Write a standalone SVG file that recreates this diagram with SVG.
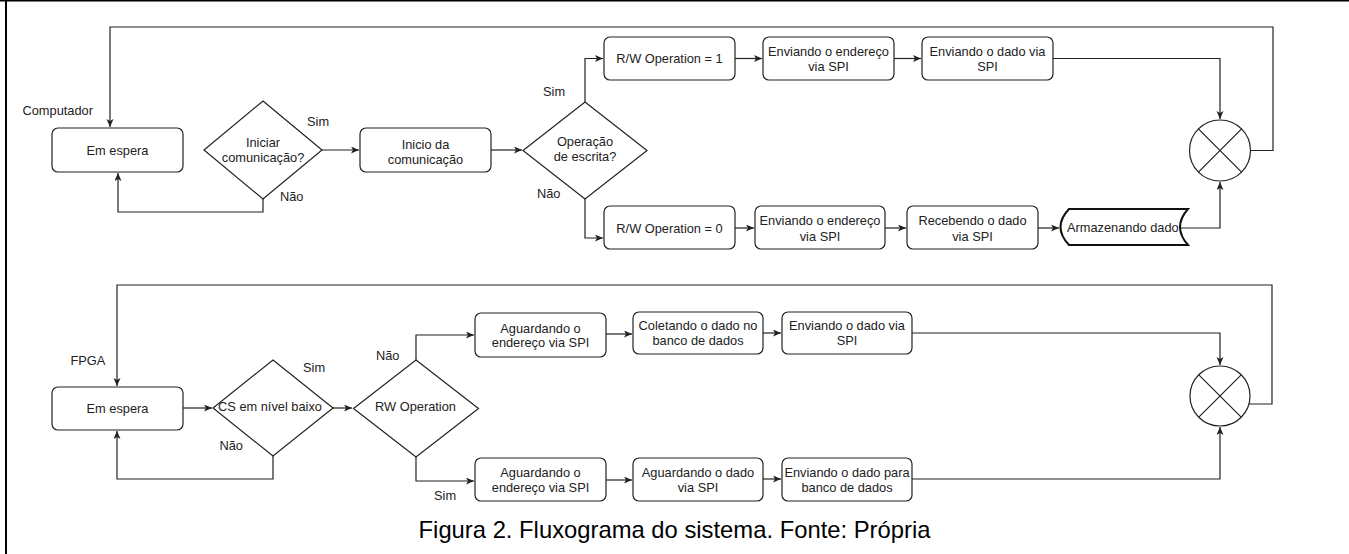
<svg xmlns="http://www.w3.org/2000/svg" width="1349" height="554" viewBox="0 0 1349 554">
<style>
.n{fill:#fff;stroke:#222;stroke-width:1.2}
.c{fill:none;stroke:#222;stroke-width:1.2}
text{font-family:"Liberation Sans",Arial,sans-serif;font-size:12.8px;fill:#222}
.m{text-anchor:middle}
.cap{font-size:23.8px;fill:#000}
</style>
<defs>
<marker id="a" markerWidth="9" markerHeight="8" refX="8" refY="3.5" orient="auto" markerUnits="userSpaceOnUse">
<path d="M0,0 L8,3.5 L0,7 L2,3.5 z" fill="#222"/>
</marker>
</defs>
<rect width="1349" height="554" fill="#fff"/>
<g id="frame"><line x1="0" y1="0.8" x2="1349" y2="0.8" stroke="#000" stroke-width="1.6"/><line x1="6" y1="0" x2="6" y2="554" stroke="#000" stroke-width="2"/></g>
<g id="connectors" marker-end="url(#a)">
<path class="c" d="M1251,150.5 H1273 V27 H110 V127" marker-end="url(#a)"/>
<path class="c" d="M263,199 V212 H118 V173" marker-end="url(#a)"/>
<path class="c" d="M322,150 H359" marker-end="url(#a)"/>
<path class="c" d="M491,150 H522" marker-end="url(#a)"/>
<path class="c" d="M585,102 V58.5 H603" marker-end="url(#a)"/>
<path class="c" d="M585,199 V238 H603" marker-end="url(#a)"/>
<path class="c" d="M735,58.5 H762" marker-end="url(#a)"/>
<path class="c" d="M894,58.5 H921" marker-end="url(#a)"/>
<path class="c" d="M1053,58.5 H1220 V119" marker-end="url(#a)"/>
<path class="c" d="M735,228 H754" marker-end="url(#a)"/>
<path class="c" d="M885,228 H906" marker-end="url(#a)"/>
<path class="c" d="M1038,228 H1059" marker-end="url(#a)"/>
<path class="c" d="M1180,228 H1220 V182" marker-end="url(#a)"/>
<path class="c" d="M1249,404 H1272 V285 H117 V386" marker-end="url(#a)"/>
<path class="c" d="M273,456 V479 H117 V431" marker-end="url(#a)"/>
<path class="c" d="M183,408 H212" marker-end="url(#a)"/>
<path class="c" d="M333,408 H352" marker-end="url(#a)"/>
<path class="c" d="M416,360 V335 H474" marker-end="url(#a)"/>
<path class="c" d="M416,457 V481 H474" marker-end="url(#a)"/>
<path class="c" d="M606,334 H632" marker-end="url(#a)"/>
<path class="c" d="M763,333 H781" marker-end="url(#a)"/>
<path class="c" d="M912,333 H1220 V365" marker-end="url(#a)"/>
<path class="c" d="M606,480 H632" marker-end="url(#a)"/>
<path class="c" d="M763,479 H781" marker-end="url(#a)"/>
<path class="c" d="M912,479 H1220 V427" marker-end="url(#a)"/>
</g>
<g id="labels">
<text x="22.5" y="114.5">Computador</text>
<text x="307" y="126">Sim</text>
<text x="280" y="200.5">Não</text>
<text x="543" y="96">Sim</text>
<text x="537" y="198">Não</text>
<text x="70.5" y="365">FPGA</text>
<text x="303" y="372">Sim</text>
<text x="219.5" y="450">Não</text>
<text x="376" y="359.5">Não</text>
<text x="434" y="500">Sim</text>
</g>
<g id="em-espera-1"><rect class="n" x="52" y="128" width="131" height="44" rx="6"/><text class="m" x="117.5" y="154.5">Em espera</text></g>
<g id="iniciar"><polygon class="n" points="263,101 322,150 263,199 204,150"/><text class="m" x="263" y="147">Iniciar</text><text class="m" x="263" y="162">comunicação?</text></g>
<g id="inicio"><rect class="n" x="360" y="128" width="131" height="44" rx="6"/><text class="m" x="425.5" y="148.5">Inicio da</text><text class="m" x="425.5" y="163.5">comunicação</text></g>
<g id="operacao"><polygon class="n" points="585,102 647,150.5 585,199 523,150.5"/><text class="m" x="585" y="146">Operação</text><text class="m" x="585" y="161">de escrita?</text></g>
<g id="rw1"><rect class="n" x="604" y="37" width="131" height="43" rx="6"/><text class="m" x="669.5" y="63">R/W Operation = 1</text></g>
<g id="rw0"><rect class="n" x="604" y="206" width="131" height="43" rx="6"/><text class="m" x="669.5" y="232.5">R/W Operation = 0</text></g>
<g id="env-end-1"><rect class="n" x="763" y="37" width="131" height="43" rx="6"/><text class="m" x="828.5" y="56">Enviando o endereço</text><text class="m" x="828.5" y="70.5">via SPI</text></g>
<g id="env-dado-1"><rect class="n" x="922" y="37" width="131" height="43" rx="6"/><text class="m" x="987.5" y="56">Enviando o dado via</text><text class="m" x="987.5" y="70.5">SPI</text></g>
<g id="env-end-0"><rect class="n" x="755" y="206" width="130" height="43" rx="6"/><text class="m" x="820" y="225">Enviando o endereço</text><text class="m" x="820" y="240.5">via SPI</text></g>
<g id="receb"><rect class="n" x="907" y="206" width="131" height="43" rx="6"/><text class="m" x="972.5" y="225">Recebendo o dado</text><text class="m" x="972.5" y="240.5">via SPI</text></g>
<g id="armaz"><path d="M1069,209 H1188 Q1172,227 1188,245 H1069 Q1052,227 1069,209 z" fill="#fff" stroke="#111" stroke-width="2"/><text x="1067" y="232">Armazenando dado</text></g>
<g id="juncao-1"><circle class="n" cx="1220" cy="150.5" r="30.5"/><path class="c" d="M1198.4,128.9 L1241.6,172.1 M1241.6,128.9 L1198.4,172.1"/></g>
<g id="em-espera-2"><rect class="n" x="52" y="387" width="131" height="43" rx="6"/><text class="m" x="117.5" y="413">Em espera</text></g>
<g id="cs"><polygon class="n" points="273,360 333,408 273,456 213,408"/><text class="m" x="270" y="411">CS em nível baixo</text></g>
<g id="rwop"><polygon class="n" points="416,360 478.5,408.5 416,457 353.5,408.5"/><text class="m" x="415.5" y="411">RW Operation</text></g>
<g id="ag-end-1"><rect class="n" x="475" y="313" width="131" height="44" rx="6"/><text class="m" x="540.5" y="332.5">Aguardando o</text><text class="m" x="540.5" y="347">endereço via SPI</text></g>
<g id="coletando"><rect class="n" x="633" y="312" width="130" height="42" rx="6"/><text class="m" x="698" y="330">Coletando o dado no</text><text class="m" x="698" y="345">banco de dados</text></g>
<g id="env-dado-2"><rect class="n" x="782" y="312" width="130" height="42" rx="6"/><text class="m" x="847" y="330">Enviando o dado via</text><text class="m" x="847" y="345">SPI</text></g>
<g id="ag-end-2"><rect class="n" x="475" y="458" width="131" height="43" rx="6"/><text class="m" x="540.5" y="476.5">Aguardando o</text><text class="m" x="540.5" y="491.5">endereço via SPI</text></g>
<g id="ag-dado"><rect class="n" x="633" y="458" width="130" height="43" rx="6"/><text class="m" x="698" y="476.5">Aguardando o dado</text><text class="m" x="698" y="491.5">via SPI</text></g>
<g id="env-banco"><rect class="n" x="782" y="458" width="130" height="43" rx="6"/><text class="m" x="847" y="476.5">Enviando o dado para</text><text class="m" x="847" y="491.5">banco de dados</text></g>
<g id="juncao-2"><circle class="n" cx="1220" cy="396" r="30"/><path class="c" d="M1198.8,374.8 L1241.2,417.2 M1241.2,374.8 L1198.8,417.2"/></g>
<text class="m cap" x="674.5" y="538">Figura 2. Fluxograma do sistema. Fonte: Própria</text>
</svg>
